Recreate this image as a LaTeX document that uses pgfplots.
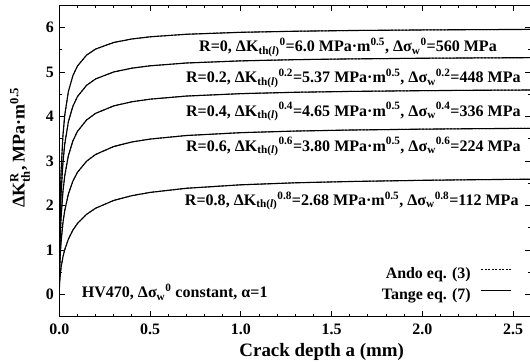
\documentclass[border=0pt]{standalone}
\usepackage{pgfplots}
\pgfplotsset{compat=1.18}
\usepackage{pgfplotstable}
\usepackage{amsmath}
\usepackage{fontspec}
\setmainfont{Liberation Serif}

\pgfplotstableread{
a r0 r2 r4 r6 r8
0 0 0 0 0 0
0.001 0.979 0.785 0.591 0.395 0.198
0.002 1.367 1.099 0.829 0.555 0.279
0.005 2.082 1.686 1.280 0.864 0.438
0.01 2.781 2.275 1.746 1.192 0.611
0.02 3.569 2.962 2.311 1.609 0.843
0.03 4.029 3.380 2.670 1.887 1.007
0.05 4.561 3.881 3.121 2.258 1.243
0.075 4.920 4.232 3.454 2.550 1.447
0.1 5.135 4.448 3.665 2.745 1.595
0.15 5.380 4.701 3.921 2.994 1.801
0.2 5.517 4.845 4.071 3.147 1.939
0.3 5.665 5.002 4.239 3.326 2.114
0.4 5.743 5.087 4.332 3.428 2.221
0.5 5.792 5.140 4.390 3.493 2.294
0.7 5.849 5.203 4.460 3.573 2.387
1.0 5.893 5.251 4.514 3.637 2.465
1.3 5.917 5.278 4.545 3.673 2.510
1.6 5.933 5.295 4.564 3.696 2.539
2.0 5.946 5.310 4.581 3.716 2.566
2.3 5.953 5.317 4.590 3.727 2.580
2.6 5.958 5.323 4.596 3.735 2.591
}\kdata

\newcommand{\annfont}{\fontsize{16.1}{19}\selectfont\bfseries}
\newcommand{\tx}[1]{\text{\bfseries #1}}

\begin{document}
\begin{tikzpicture}
\begin{axis}[
  scale only axis, width=472bp, height=311.4bp,
  xmin=0, xmax=2.6, ymin=-0.5, ymax=6.5,
  xtick={0,0.5,1,1.5,2,2.5}, xticklabels={0.0,0.5,1.0,1.5,2.0,2.5},
  ytick={0,1,2,3,4,5,6},
  minor x tick num=4, minor y tick num=1,
  tick align=inside,
  major tick length=6bp, minor tick length=3bp,
  axis line style={line width=1.3bp},
  every tick/.style={black, line width=0.9bp},
  /pgf/number format/assume math mode=true,
  tick label style={font=\fontsize{16}{16}\selectfont\bfseries},
  xticklabel style={yshift=-3.5bp},
  yticklabel style={xshift=-2bp},
  xlabel={Crack depth a (mm)},
  xlabel style={at={(rel axis cs:0.556,-0.1294)}, anchor=base, font=\fontsize{19}{19}\selectfont\bfseries},
  ylabel={ΔK$_{\tx{th}}^{\tx{R}}$, MPa·m$^{\tx{0.5}}$},
  ylabel style={at={(rel axis cs:-0.0832,0.542)}, anchor=center, font=\fontsize{18}{18}\selectfont\bfseries},
  legend plot pos=right,
  legend cell align=right,
  legend style={draw=none, fill=none, inner sep=0pt, outer sep=0pt,
    at={(axis cs:2.493,-0.2)}, anchor=south east,
    font=\fontsize{16}{19}\selectfont\bfseries,
    nodes={inner sep=0pt, text height=12bp, text depth=4bp},
    row sep=4.7bp, column sep=10bp},
  legend image code/.code={\draw[#1] (0bp,5bp) -- (30bp,5bp);},
]
\addplot[black, line width=0.9bp, dash pattern=on 2bp off 1.5bp] table[x=a,y=r0] {\kdata};
\addlegendentry{Ando eq. (3)}
\addplot[black, line width=1.1bp] table[x=a,y=r0] {\kdata};
\addlegendentry{Tange eq. (7)}
\addplot[black, line width=1.1bp, forget plot] table[x=a,y=r2] {\kdata};
\addplot[black, line width=1.1bp, forget plot] table[x=a,y=r4] {\kdata};
\addplot[black, line width=1.1bp, forget plot] table[x=a,y=r6] {\kdata};
\addplot[black, line width=1.1bp, forget plot] table[x=a,y=r8] {\kdata};
\addplot[black, line width=0.9bp, dash pattern=on 2bp off 1.5bp, forget plot] table[x=a,y=r2] {\kdata};
\addplot[black, line width=0.9bp, dash pattern=on 2bp off 1.5bp, forget plot] table[x=a,y=r4] {\kdata};
\addplot[black, line width=0.9bp, dash pattern=on 2bp off 1.5bp, forget plot] table[x=a,y=r6] {\kdata};
\addplot[black, line width=0.9bp, dash pattern=on 2bp off 1.5bp, forget plot] table[x=a,y=r8] {\kdata};

\node[anchor=base east, font=\annfont, inner sep=0pt] at (axis cs:2.411,5.451)
  {R=0, ΔK$_{\tx{th(}\textit{l}\tx{)}}{}^{\tx{0}}$=6.0 MPa·m$^{\tx{0.5}}$, Δσ$_{\tx{w}}{}^{\tx{0}}$=560 MPa};
\node[anchor=base east, font=\annfont, inner sep=0pt] at (axis cs:2.542,4.763)
  {R=0.2, ΔK$_{\tx{th(}\textit{l}\tx{)}}{}^{\tx{0.2}}$=5.37 MPa·m$^{\tx{0.5}}$, Δσ$_{\tx{w}}{}^{\tx{0.2}}$=448 MPa};
\node[anchor=base east, font=\annfont, inner sep=0pt] at (axis cs:2.542,4.011)
  {R=0.4, ΔK$_{\tx{th(}\textit{l}\tx{)}}{}^{\tx{0.4}}$=4.65 MPa·m$^{\tx{0.5}}$, Δσ$_{\tx{w}}{}^{\tx{0.4}}$=336 MPa};
\node[anchor=base east, font=\annfont, inner sep=0pt] at (axis cs:2.542,3.224)
  {R=0.6, ΔK$_{\tx{th(}\textit{l}\tx{)}}{}^{\tx{0.6}}$=3.80 MPa·m$^{\tx{0.5}}$, Δσ$_{\tx{w}}{}^{\tx{0.6}}$=224 MPa};
\node[anchor=base east, font=\annfont, inner sep=0pt] at (axis cs:2.531,2.002)
  {R=0.8, ΔK$_{\tx{th(}\textit{l}\tx{)}}{}^{\tx{0.8}}$=2.68 MPa·m$^{\tx{0.5}}$, Δσ$_{\tx{w}}{}^{\tx{0.8}}$=112 MPa};
\node[anchor=base west, font=\annfont, inner sep=0pt] at (axis cs:0.123,-0.074)
  {HV470, Δσ$_{\tx{w}}{}^{\tx{0}}$ constant, α=1};
\coordinate (O) at (rel axis cs:0,0);
\end{axis}
\pgfresetboundingbox
\path[use as bounding box] ([xshift=-59.3bp,yshift=-45.3bp]O) rectangle ([xshift=470.7bp,yshift=316.7bp]O);
\end{tikzpicture}
\end{document}
